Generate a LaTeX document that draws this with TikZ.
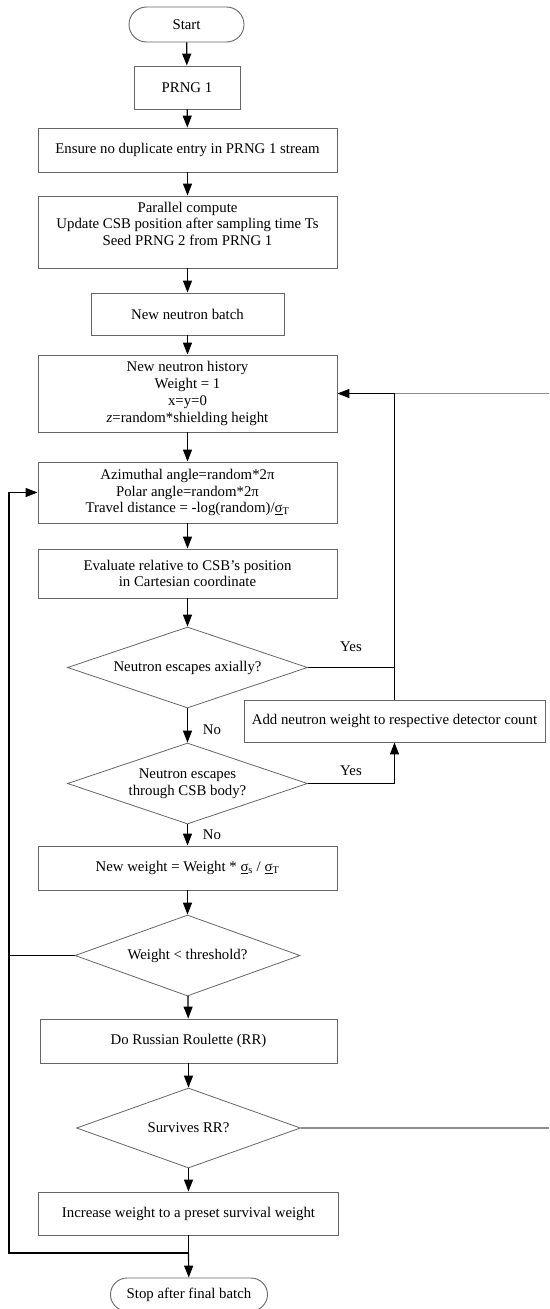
\documentclass[tikz,border=0pt]{standalone}
\usepackage{fontspec}
\setmainfont{Liberation Serif}
\usetikzlibrary{shapes.geometric,shapes.misc,arrows.meta,calc}
\begin{document}
\begin{tikzpicture}[x=1pt,y=-1pt,
  every node/.style={font=\fontsize{14.8}{16.7}\selectfont, align=center, inner sep=1pt},
  box/.style={draw=black!60, line width=0.9pt, rectangle},
  term/.style={draw=black!60, line width=0.9pt, rounded rectangle},
  dec/.style={draw=black!60, line width=0.8pt, diamond, inner sep=0pt, shape aspect=2.9},
  conn/.style={draw=black, line width=1.2pt},
  arr/.style={conn, -{Triangle[length=12pt,width=9pt]}},
  far/.style={draw=black!45, line width=1.1pt},
  lbl/.style={font=\fontsize{14.8}{16.7}\selectfont}
]
\useasboundingbox (0,0) rectangle (549,1309);

\node[term, minimum width=117, minimum height=35] (start) at (186.5,24.5) {Start};
\node[box, minimum width=106, minimum height=43] (prng) at (187,87.5) {PRNG 1};
\node[box, minimum width=299, minimum height=44] (ensure) at (187.5,150) {Ensure no duplicate entry in PRNG 1 stream};
\node[box, minimum width=299, minimum height=72] (par) at (187.5,232) {Parallel compute\\Update CSB position after sampling time Ts\\Seed PRNG 2 from PRNG 1\\\mbox{}};
\node[box, minimum width=193, minimum height=42] (batch) at (187.5,314) {New neutron batch};
\node[box, minimum width=299, minimum height=77] (hist) at (187.5,393.5) {New neutron history\\Weight = 1\\x=y=0\\\textit{z}=random*shielding height};
\node[box, minimum width=299, minimum height=61] (azi) at (187.5,492.5) {Azimuthal angle=random*2π\\Polar angle=random*2π\\Travel distance = -log(random)/\underline{σ}\textsubscript{T}};
\node[box, minimum width=299, minimum height=49] (eval) at (187.5,573.5) {Evaluate relative to CSB's position\\in Cartesian coordinate};
\node[dec, minimum width=240, minimum height=81] (d1) at (187.5,667.5) {Neutron escapes axially?};
\node[box, minimum width=301, minimum height=42] (add) at (394.5,721) {Add neutron weight to respective detector count};
\node[dec, minimum width=240, minimum height=81] (d2) at (187.5,783.5) {Neutron escapes\\through CSB body?};
\node[box, minimum width=299, minimum height=44] (neww) at (187.5,868) {New weight = Weight * \underline{σ}\textsubscript{s} / \underline{σ}\textsubscript{T}};
\node[dec, minimum width=225, minimum height=81] (d3) at (187.5,955.5) {Weight < threshold?};
\node[box, minimum width=297, minimum height=44] (rr) at (188.5,1041) {Do Russian Roulette (RR)};
\node[dec, minimum width=224, minimum height=80] (d4) at (188.5,1128) {Survives RR?};
\node[box, minimum width=299.5, minimum height=43] (inc) at (188.5,1213.5) {Increase weight to a preset survival weight};
\node[term, minimum width=159, minimum height=33] (stop) at (189,1294.5) {Stop after final batch};

\node[lbl] (yes1) at (351,647) {Yes};
\node[lbl] (yes2) at (351,771) {Yes};
\node[lbl] (no1) at (212,730) {No};
\node[lbl] (no2) at (212,835) {No};

\coordinate (jn) at (188.5,1253);
\coordinate (lp) at (9,1253);
\coordinate (j1) at (394.5,667.5);
\coordinate (jt) at (394.5,393.5);
\coordinate (re1) at (549,393.5);
\coordinate (re2) at (549,1128);

\draw[arr] (start) -- (prng);
\draw[arr] (prng) -- (ensure);
\draw[arr] (ensure) -- (par);
\draw[arr] (par) -- (batch);
\draw[arr] (batch) -- (hist);
\draw[arr] (hist) -- (azi);
\draw[arr] (azi) -- (eval);
\draw[arr] (eval) -- (d1);
\draw[arr] (d1) -- (d2);
\draw[arr] (d2) -- (neww);
\draw[arr] (neww) -- (d3);
\draw[arr] (d3) -- (rr);
\draw[arr] (rr) -- (d4);
\draw[arr] (d4) -- (inc);
\draw[conn] (inc.south) -- (jn);
\draw[arr] (jn) -- (stop);

\draw[arr] (d1.east) -- (j1) -- (jt) -- (hist.east);
\draw[conn] (add.north) -- (j1);
\draw[arr] (d2.east) -- (d2.east -| add.south) -- (add.south);
\draw[far] (re1) -- (jt);
\draw[far] (d4.east) -- (re2);

\draw[arr] (jn) -- (lp) -- (lp |- azi.west) -- (azi.west);
\draw[conn] (d3.west) -- (d3.west -| lp);
\end{tikzpicture}
\end{document}
